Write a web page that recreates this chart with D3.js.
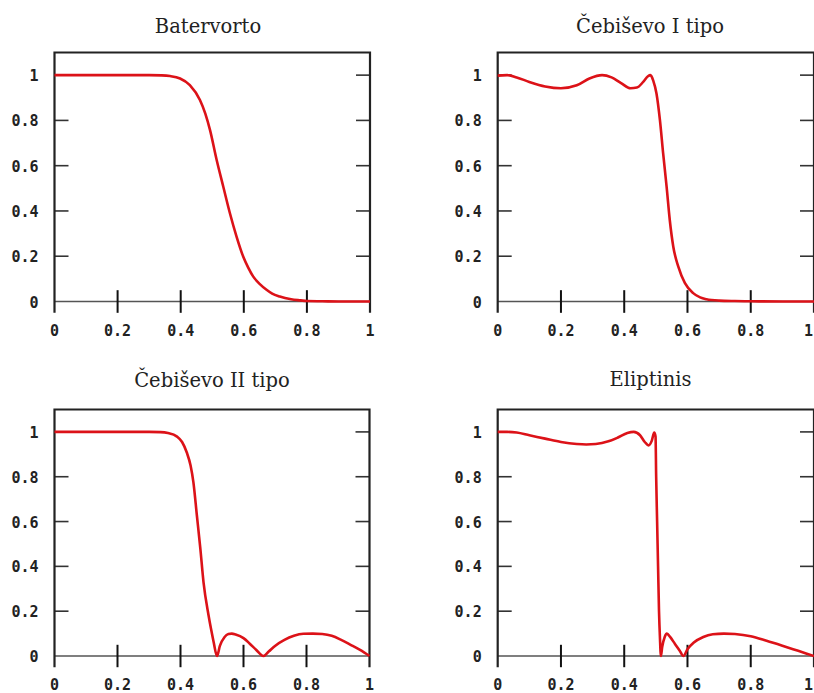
<!DOCTYPE html>
<html>
<head>
<meta charset="utf-8">
<script src="https://cdn.jsdelivr.net/npm/d3@7"></script>
<style>
  body { margin: 0; background: #fff; overflow: hidden; }
  svg { display: block; }
</style>
</head>
<body>
<svg id="chart" width="814" height="693"></svg>
<script>
// Titles and tick labels
const titles = ['Batervorto', 'Čebiševo I tipo', 'Čebiševo II tipo', 'Eliptinis'];
const xTicks = [0, 0.2, 0.4, 0.6, 0.8, 1];
const yTicks = [0, 0.2, 0.4, 0.6, 0.8, 1];
const tickLabels = ['0', '0.2', '0.4', '0.6', '0.8', '1'];

// Butterworth response
const butterX = [0, 0.1, 0.2, 0.3, 0.34, 0.366, 0.398, 0.429, 0.461, 0.478, 0.493, 0.514, 0.535, 0.556, 0.577, 0.598, 0.614, 0.63, 0.65, 0.672, 0.69, 0.714, 0.75, 0.78, 0.8, 0.85, 0.9, 1];
const butterY = [1, 1, 1, 1, 0.999, 0.996, 0.985, 0.956, 0.89, 0.83, 0.757, 0.625, 0.507, 0.39, 0.287, 0.199, 0.15, 0.11, 0.078, 0.052, 0.035, 0.022, 0.01, 0.005, 0.002, 0.001, 0, 0];

// Chebyshev type I
const cheb1X = [0, 0.03, 0.06, 0.1, 0.15, 0.2, 0.25, 0.29, 0.33, 0.36, 0.39, 0.42, 0.44, 0.46, 0.475, 0.483, 0.492, 0.502, 0.513, 0.523, 0.534, 0.544, 0.555, 0.571, 0.592, 0.618, 0.64, 0.66, 0.7, 0.75, 0.8, 0.9, 1];
const cheb1Y = [0.998, 1, 0.99, 0.97, 0.95, 0.942, 0.955, 0.985, 1, 0.99, 0.965, 0.942, 0.945, 0.97, 0.995, 1, 0.975, 0.919, 0.8, 0.655, 0.507, 0.36, 0.243, 0.154, 0.081, 0.037, 0.018, 0.01, 0.004, 0.002, 0.001, 0, 0];

// Chebyshev type II
const cheb2X = [0, 0.1, 0.2, 0.3, 0.336, 0.36, 0.389, 0.405, 0.42, 0.432, 0.441, 0.452, 0.463, 0.473, 0.489, 0.497, 0.505, 0.516, 0.525, 0.54, 0.552, 0.563, 0.575, 0.6, 0.62, 0.64, 0.663, 0.68, 0.7, 0.73, 0.76, 0.79, 0.82, 0.85, 0.88, 0.91, 0.94, 0.97, 1];
const cheb2Y = [1, 1, 1, 1, 0.999, 0.995, 0.979, 0.955, 0.908, 0.85, 0.775, 0.627, 0.479, 0.33, 0.182, 0.12, 0.064, 0, 0.045, 0.085, 0.098, 0.1, 0.096, 0.08, 0.055, 0.028, 0, 0.02, 0.045, 0.072, 0.09, 0.099, 0.1, 0.098, 0.09, 0.072, 0.05, 0.027, 0];

// Elliptic
const ellipX = [0, 0.03, 0.06, 0.1, 0.15, 0.2, 0.25, 0.28, 0.31, 0.35, 0.38, 0.41, 0.43, 0.45, 0.465, 0.477, 0.487, 0.495, 0.499, 0.501, 0.504, 0.507, 0.51, 0.513, 0.516, 0.52, 0.528, 0.535, 0.545, 0.56, 0.575, 0.587, 0.6, 0.62, 0.65, 0.68, 0.715, 0.75, 0.8, 0.85, 0.9, 0.95, 1];
const ellipY = [1, 1, 0.997, 0.985, 0.97, 0.955, 0.946, 0.944, 0.946, 0.958, 0.975, 0.995, 1, 0.985, 0.955, 0.94, 0.96, 0.997, 0.98, 0.8, 0.6, 0.4, 0.2, 0.08, 0, 0.04, 0.085, 0.1, 0.085, 0.055, 0.025, 0, 0.03, 0.06, 0.085, 0.097, 0.1, 0.098, 0.088, 0.068, 0.046, 0.023, 0];

const panels = [
  { title: titles[0], xs: butterX, ys: butterY, left: 54.5, right: 370, top: 52.5, zero: 301.5, titleX: 208, titleY: 33 },
  { title: titles[1], xs: cheb1X, ys: cheb1Y, left: 497.7, right: 814, top: 52.5, zero: 301.5, titleX: 650, titleY: 33 },
  { title: titles[2], xs: cheb2X, ys: cheb2Y, left: 54.5, right: 369.5, top: 409.5, zero: 656, titleX: 212, titleY: 387 },
  { title: titles[3], xs: ellipX, ys: ellipY, left: 497.7, right: 814, top: 409.5, zero: 656, titleX: 650.5, titleY: 386 }
];

const W = 814;
const svg = d3.select('#chart');

const labelStyle = sel => sel
  .style('font-family', '"DejaVu Sans Mono", monospace')
  .style('font-weight', 'bold')
  .style('font-size', '15px')
  .style('fill', '#222');

panels.forEach(p => {
  const x = d3.scaleLinear().domain([0, 1]).range([p.left, p.right]);
  const y = d3.scaleLinear().domain([0, 1.1]).range([p.zero, p.top]);
  const bottom = y(-0.05);
  const g = svg.append('g');

  // Title
  g.append('text')
    .attr('x', p.titleX)
    .attr('y', p.titleY)
    .attr('text-anchor', 'middle')
    .style('font-family', '"DejaVu Serif", serif')
    .style('font-size', '19.5px')
    .style('fill', '#222')
    .text(p.title);

  // Zero line
  g.append('line')
    .attr('x1', x(0)).attr('x2', x(1))
    .attr('y1', y(0)).attr('y2', y(0))
    .attr('stroke', '#555').attr('stroke-width', 1.6);

  // Y ticks, inside on both sides
  g.selectAll('.ytl').data(yTicks.slice(1)).enter().append('line')
    .attr('x1', x(0)).attr('x2', x(0) + 14)
    .attr('y1', d => y(d)).attr('y2', d => y(d))
    .attr('stroke', '#333').attr('stroke-width', 1.6);
  g.selectAll('.ytr').data(yTicks.slice(1)).enter().append('line')
    .attr('x1', x(1) - 14).attr('x2', x(1))
    .attr('y1', d => y(d)).attr('y2', d => y(d))
    .attr('stroke', '#333').attr('stroke-width', 1.6);

  // X ticks crossing the zero line
  g.selectAll('.xt').data(xTicks.slice(1, -1)).enter().append('line')
    .attr('x1', d => x(d)).attr('x2', d => x(d))
    .attr('y1', y(0.05)).attr('y2', bottom)
    .attr('stroke', '#111').attr('stroke-width', 2);

  // Frame: top and both sides, open at the bottom
  g.append('path')
    .attr('d', `M${x(0)},${bottom}V${y(1.1)}H${x(1)}V${bottom}`)
    .attr('fill', 'none')
    .attr('stroke', '#222').attr('stroke-width', 2.2);

  // Tick labels
  g.selectAll('.yl').data(yTicks).enter().append('text')
    .attr('x', x(0) - 16)
    .attr('y', d => y(d) + 1)
    .attr('text-anchor', 'end')
    .attr('dominant-baseline', 'central')
    .call(labelStyle)
    .text((d, i) => tickLabels[i]);
  g.selectAll('.xl').data(xTicks).enter().append('text')
    .attr('x', d => Math.min(x(d), W - 1))
    .attr('y', y(0) + 29)
    .attr('text-anchor', d => x(d) + 5 > W ? 'end' : 'middle')
    .attr('dominant-baseline', 'central')
    .call(labelStyle)
    .text((d, i) => tickLabels[i]);

  // Response curve
  const pts = p.xs.map((v, i) => [v, p.ys[i]]);
  const line = d3.line()
    .x(d => x(d[0]))
    .y(d => y(d[1]))
    .curve(d3.curveMonotoneX);
  g.append('path')
    .datum(pts)
    .attr('d', line)
    .attr('fill', 'none')
    .attr('stroke', '#dc1218')
    .attr('stroke-width', 2.6)
    .attr('stroke-linejoin', 'round');
});
</script>
</body>
</html>
